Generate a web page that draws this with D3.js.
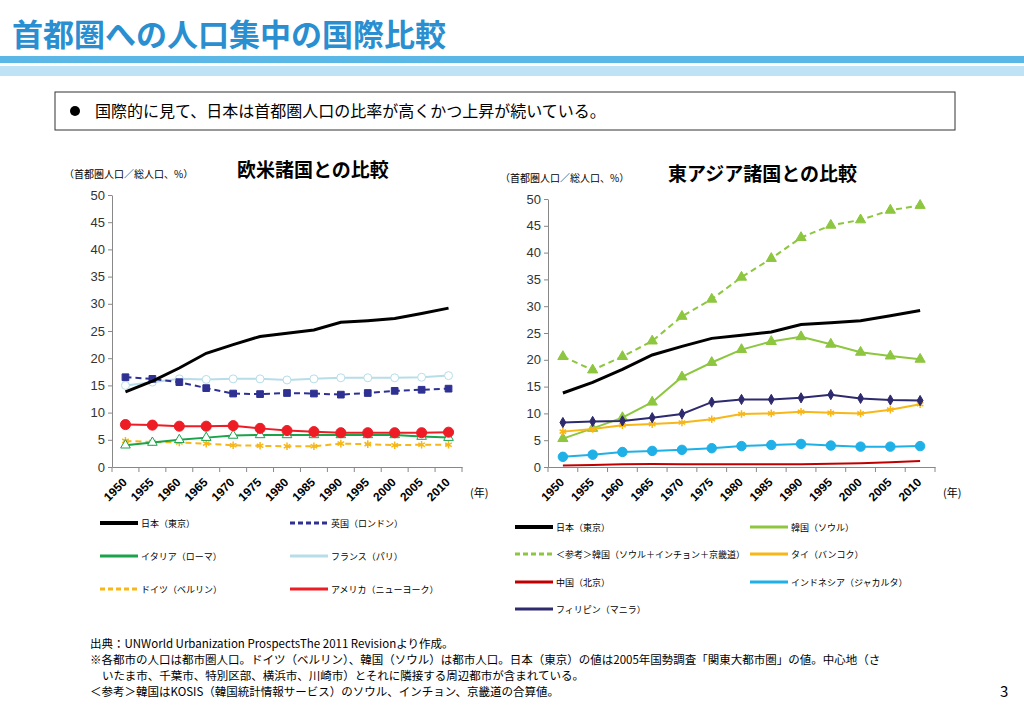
<!DOCTYPE html>
<html><head><meta charset="utf-8">
<script src="https://cdn.jsdelivr.net/npm/d3@7"></script>
<style>body{margin:0;background:#fff;font-family:"Noto Sans CJK JP",sans-serif}</style>
</head><body><div id="chart"></div>
<script>
const years = ["1950","1955","1960","1965","1970","1975","1980","1985","1990","1995","2000","2005","2010"];
const yTicks = [0,5,10,15,20,25,30,35,40,45,50];

// 欧米
const japan = [13.8,15.8,18.2,20.9,22.5,24.0,24.6,25.2,26.6,26.9,27.3,28.2,29.2];
const uk = [16.5,16.2,15.6,14.5,13.5,13.4,13.6,13.5,13.3,13.6,14.0,14.2,14.4];
const france = [15.0,15.6,16.2,16.1,16.2,16.2,16.0,16.2,16.4,16.4,16.4,16.5,16.8];
const usa = [7.8,7.7,7.5,7.5,7.6,7.1,6.7,6.5,6.3,6.3,6.3,6.3,6.4];
const italy = [4.0,4.5,5.0,5.4,5.8,5.9,5.9,5.9,5.9,5.9,5.9,5.6,5.4];
const germany = [4.8,4.6,4.5,4.3,4.0,3.9,3.8,3.8,4.3,4.2,4.0,4.1,4.1];

// 東アジア
const koreaRef = [20.6,18.1,20.6,23.5,28.1,31.3,35.4,38.9,42.8,45.1,46.1,47.9,48.8];
const seoul = [5.3,7.2,9.2,12.1,16.8,19.5,21.9,23.4,24.3,22.9,21.4,20.7,20.1];
const manila = [8.3,8.5,8.6,9.2,9.9,12.1,12.6,12.6,12.9,13.5,12.8,12.5,12.4];
const bangkok = [6.6,7.1,7.8,8.0,8.3,8.9,9.9,10.0,10.3,10.1,10.0,10.7,11.7];
const jakarta = [1.9,2.3,2.8,3.0,3.2,3.5,3.9,4.1,4.3,4.0,3.8,3.8,3.9];
const beijing = [0.3,0.35,0.5,0.55,0.5,0.5,0.5,0.5,0.5,0.6,0.7,0.9,1.1];

const svg = d3.select("#chart").append("svg").attr("width",1024).attr("height",720);

// header
svg.append("text").attr("x",12).attr("y",46).attr("font-size",31).attr("font-weight","bold")
  .attr("fill","#2a8fd0").text("首都圏への人口集中の国際比較");
svg.append("rect").attr("x",0).attr("y",56).attr("width",1024).attr("height",7).attr("fill","#5bb8e6");
svg.append("rect").attr("x",0).attr("y",66).attr("width",1024).attr("height",10).attr("fill","#bfe3f5");
svg.append("rect").attr("x",55).attr("y",92).attr("width",900).attr("height",38).attr("fill","none").attr("stroke","#333");
svg.append("circle").attr("cx",75).attr("cy",111).attr("r",5).attr("fill","#000");
svg.append("text").attr("x",95).attr("y",117).attr("font-size",16).text("国際的に見て、日本は首都圏人口の比率が高くかつ上昇が続いている。");

function chart(x0,x1,yTop,yBot,title,titleX,series){
  const x = d3.scaleBand().domain(years).range([x0,x1]);
  const y = d3.scaleLinear().domain([0,50]).range([yBot,yTop]);
  const g = svg.append("g");
  g.append("g").attr("transform",`translate(${x0},0)`)
    .call(d3.axisLeft(y).tickValues(yTicks).tickSize(4).tickSizeOuter(0))
    .call(a=>{a.select(".domain").attr("stroke","#888");a.selectAll("line").attr("stroke","#888");
      a.selectAll("text").attr("font-size",13).attr("fill","#333").attr("font-family","Liberation Sans");});
  g.append("g").attr("transform",`translate(0,${yBot})`)
    .call(d3.axisBottom(x).tickSize(0))
    .call(a=>{a.select(".domain").attr("stroke","#888");
      a.selectAll("text").attr("font-size",12).attr("font-weight","bold").attr("font-family","Liberation Sans")
        .attr("text-anchor","end").attr("transform","translate(-6,8) rotate(-45)");});
  years.forEach(d=>g.append("line").attr("x1",x(d)).attr("x2",x(d)).attr("y1",yBot).attr("y2",yBot+5).attr("stroke","#888"));
  g.append("line").attr("x1",x1).attr("x2",x1).attr("y1",yBot).attr("y2",yBot+5).attr("stroke","#888");
  g.append("text").attr("x",x1+8).attr("y",yBot+30).attr("font-size",11).text("(年)");
  g.append("text").attr("x",x0-48).attr("y",yTop-17).attr("font-size",10).text("（首都圏人口／総人口、%）");
  g.append("text").attr("x",titleX).attr("y",yTop-18).attr("font-size",19).attr("font-weight","bold").text(title);
  const cx = d=>x(d)+x.bandwidth()/2;
  series.forEach(s=>{
    g.append("path").datum(s.v).attr("fill","none").attr("stroke",s.c).attr("stroke-width",s.w||2)
      .attr("stroke-dasharray",s.dash?"6,4":null)
      .attr("d",d3.line().x((v,i)=>cx(years[i])).y(v=>y(v)));
    if(!s.m) return;
    s.v.forEach((v,i)=>{
      const px=cx(years[i]), py=y(v);
      const sym = {sq:d3.symbolSquare,ci:d3.symbolCircle,tr:d3.symbolTriangle,di:d3.symbolDiamond,as:d3.symbolAsterisk}[s.m];
      g.append("path").attr("transform",`translate(${px},${py})`)
        .attr("d",d3.symbol(sym,s.sz||40)())
        .attr("fill",s.open||s.m==="as"?(s.open?"#fff":"none"):s.c)
        .attr("stroke",s.c).attr("stroke-width",s.m==="as"?1.5:1);
    });
  });
}

chart(112,462,195,467,"欧米諸国との比較",237,[
  {v:france,c:"#b7dde8",m:"ci",open:true,sz:50},
  {v:uk,c:"#2e3192",m:"sq",dash:true,sz:45},
  {v:germany,c:"#f7b718",m:"as",dash:true,sz:40},
  {v:italy,c:"#1aa34a",m:"tr",open:true,sz:40},
  {v:usa,c:"#ee1c25",m:"ci",sz:80},
  {v:japan,c:"#000",w:3}
]);
chart(548,935,199,467,"東アジア諸国との比較",668,[
  {v:koreaRef,c:"#8dc63f",m:"tr",dash:true,sz:45},
  {v:seoul,c:"#8dc63f",m:"tr",sz:45},
  {v:beijing,c:"#c00000"},
  {v:jakarta,c:"#1eb0e6",m:"ci",sz:70},
  {v:bangkok,c:"#f7b718",m:"as",sz:40},
  {v:manila,c:"#2e2a6e",m:"di",sz:30},
  {v:japan,c:"#000",w:3}
]);

// legends
function legend(x,yy,label,c,dash,w){
  svg.append("line").attr("x1",x).attr("x2",x+38).attr("y1",yy).attr("y2",yy).attr("stroke",c)
    .attr("stroke-width",w||3).attr("stroke-dasharray",dash?"5,3":null);
  svg.append("text").attr("x",x+41).attr("y",yy+4).attr("font-size",9).text(label);
}
legend(100,523,"日本（東京）","#000",false,4);
legend(290,523,"英国（ロンドン）","#2e3192",true);
legend(100,556,"イタリア（ローマ）","#1aa34a");
legend(290,556,"フランス（パリ）","#b7dde8");
legend(100,589,"ドイツ（ベルリン）","#f7b718",true);
legend(290,589,"アメリカ（ニューヨーク）","#ee1c25");
legend(515,527,"日本（東京）","#000",false,4);
legend(750,527,"韓国（ソウル）","#8dc63f");
legend(515,554,"＜参考＞韓国（ソウル＋インチョン＋京畿道）","#8dc63f",true);
legend(750,554,"タイ（バンコク）","#f7b718");
legend(515,582,"中国（北京）","#c00000");
legend(750,582,"インドネシア（ジャカルタ）","#1eb0e6");
legend(515,609,"フィリピン（マニラ）","#2e2a6e");

const notes = [
  [90,648,"出典：UNWorld Urbanization ProspectsThe 2011 Revisionより作成。"],
  [90,664,"※各都市の人口は都市圏人口。ドイツ（ベルリン）、韓国（ソウル）は都市人口。日本（東京）の値は2005年国勢調査「関東大都市圏」の値。中心地（さ"],
  [102,680,"いたま市、千葉市、特別区部、横浜市、川崎市）とそれに隣接する周辺都市が含まれている。"],
  [90,696,"＜参考＞韓国はKOSIS（韓国統計情報サービス）のソウル、インチョン、京畿道の合算値。"]
];
notes.forEach(n=>svg.append("text").attr("x",n[0]).attr("y",n[1]).attr("font-size",11.5).text(n[2]));
svg.append("text").attr("x",1000).attr("y",697).attr("font-size",15).text("3");
</script></body></html>
